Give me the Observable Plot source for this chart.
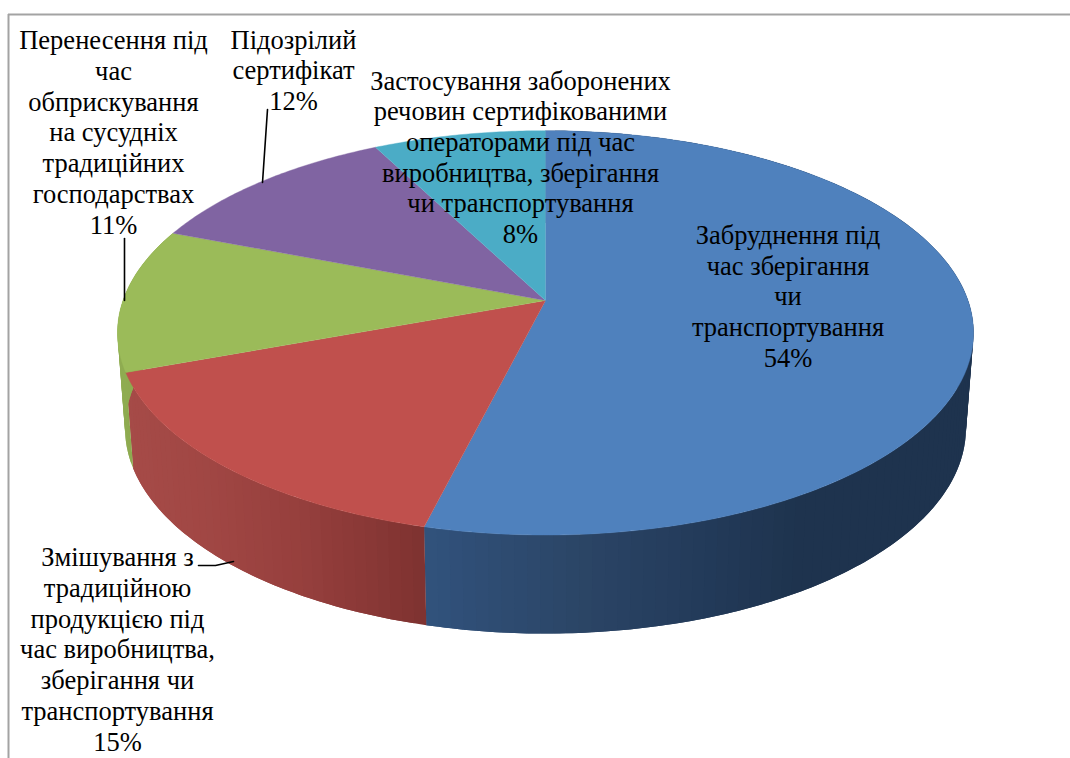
<!DOCTYPE html>
<html><head><meta charset="utf-8">
<script src="https://cdn.jsdelivr.net/npm/d3@7"></script>
<script src="https://cdn.jsdelivr.net/npm/@observablehq/plot@0.6"></script>
<style>html,body{margin:0;padding:0;background:#fff}svg{display:block}</style>
</head><body><div id="chart"></div>
<script>
const categories = [
  "Забруднення під\nчас зберігання\nчи\nтранспортування",
  "Змішування з\nтрадиційною\nпродукцією під\nчас виробництва,\nзберігання чи\nтранспортування",
  "Перенесення під\nчас\nобприскування\nна сусудніх\nтрадиційних\nгосподарствах",
  "Підозрілий\nсертифікат",
  "Застосування заборонених\nречовин сертифікованими\nоператорами під час\nвиробництва, зберігання\nчи транспортування"
];
const shares = [53.9, 15.49, 11.49, 11.52, 7.6];
const shownPercent = [54, 15, 11, 12, 8];
const topColors = ["#4f81bd", "#c0504d", "#9bbb59", "#8064a2", "#4bacc6"];

// layout: perspective of the pie and label placement (not data)
const W = 1070, H = 758;
const topRim = {x0: 545, y0: 300, R: 422.5, S: 197, k: 0.16};
const botRim = {x0: 545, y0: 395, R: 415, S: 200, k: 0.16};
const labelX = [787.5, 117, 113, 293, 520];
const labelY = [295, 648, 131, 69, 156];
const sideStops = [
  {x: [425, 580, 700, 800, 980], c: ["#31527c", "#2b4566", "#233b5a", "#1e334e", "#1e334e"]},
  {x: [120, 200, 300, 425], c: ["#a64b48", "#a14744", "#963f3d", "#7e3230"]},
  {x: [115, 140], c: ["#90ad52", "#8aa64d"]}
];
const leaders = [
  [[124, 238], [124, 300]],
  [[267, 109], [262, 182]],
  [[198, 565], [215, 565], [233, 561]]
];

const project = (p, t) => {
  const u = Math.sin(t), v = Math.cos(t), w = 1 + p.k * v;
  return [p.x0 + p.R * u / w, p.y0 - p.S * v / w];
};
const total = d3.sum(shares);
const bounds = d3.cumsum([0, ...shares]).map(c => c / total * 2 * Math.PI);
const FACE_STEP = Math.PI / 300, SIDE_STEP = Math.PI / 120;

const faces = [], strips = [];
shares.forEach((_, i) => {
  const a = bounds[i], b = bounds[i + 1], n = Math.ceil((b - a) / FACE_STEP);
  const add = (x, y) => faces.push({id: i, x, y, c: topColors[i]});
  add(topRim.x0, topRim.y0);
  for (let j = 0; j <= n; j++) { const [x, y] = project(topRim, a + (b - a) * j / n); add(x, y); }
  const stops = sideStops[i];
  if (!stops) return;
  const shade = d3.scaleLinear().domain(stops.x).range(stops.c).clamp(true);
  const m = Math.ceil((b - a) / SIDE_STEP);
  for (let j = 0; j < m; j++) {
    const t0 = a + (b - a) * j / m;
    const t1 = Math.min(b, a + (b - a) * (j + 1) / m);
    const t2 = Math.min(b, t1 + (b - a) / m);          // overlap the next strip, so that no seam shows
    const tmid = Math.min(b, t1 + (b - a) / (2 * m));
    const q = [project(topRim, t0), project(topRim, t1), project(topRim, tmid), project(topRim, t2),
               project(botRim, t2), project(botRim, tmid), project(botRim, t1), project(botRim, t0)];
    const c = shade((project(topRim, t0)[0] + project(topRim, t1)[0]) / 2);
    const id = i + "-" + j, order = i * 1000 + j;
    q.forEach(([x, y]) => strips.push({id, x, y, c, order}));
  }
});
strips.sort((a, b) => a.order - b.order);

const labels = categories.map((c, i) => ({
  text: c + "\n" + shownPercent[i] + "%", x: labelX[i], y: labelY[i]
}));
const leaderPts = leaders.flatMap((l, i) => l.map(([x, y]) => ({id: i, x, y})));

const chart = Plot.plot({
  width: W, height: H, margin: 0,
  style: {background: "#fff"},
  x: {domain: [0, W], range: [0, W], axis: null},
  y: {domain: [0, H], range: [0, H], axis: null},
  color: {type: "identity"},
  marks: [
    Plot.ruleY([14], {x1: 8, x2: W, stroke: "#a3a3a3", strokeWidth: 2}),
    Plot.ruleX([8], {y1: 14, y2: H, stroke: "#a3a3a3", strokeWidth: 2}),
    Plot.line(strips, {x: "x", y: "y", z: "id", fill: "c", stroke: "none"}),
    Plot.line(faces, {x: "x", y: "y", z: "id", fill: "c", stroke: "c", strokeWidth: 0.4}),
    Plot.line(leaderPts, {x: "x", y: "y", z: "id", stroke: "#000", strokeWidth: 1.6}),
    Plot.text(labels, {x: "x", y: "y", text: "text", textAnchor: "middle", lineAnchor: "middle",
      fontFamily: "Liberation Serif", fontSize: 26.5, lineHeight: 1.16, fill: "#000"})
  ]
});
document.getElementById("chart").append(chart);
</script></body></html>
